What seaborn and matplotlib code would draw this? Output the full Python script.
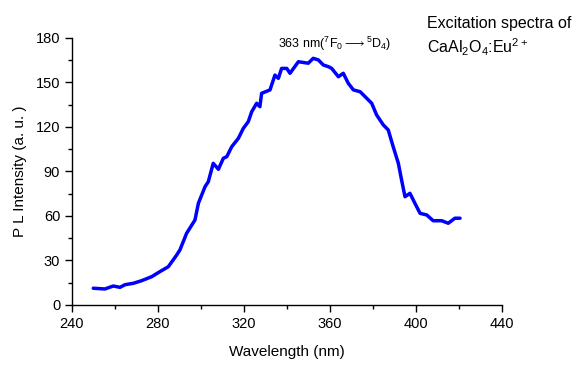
import matplotlib
matplotlib.use("Agg")
import matplotlib.pyplot as plt
import seaborn as sns
import pandas as pd

wavelength = [249.9, 255.3, 259.2, 262.3, 264.7, 268.5, 272.4, 277.1, 280.9, 284.8,
              288.7, 290.2, 293.3, 297.2, 298.8, 301.9, 303.4, 305.7, 308.1, 310.4,
              312.0, 314.3, 317.4, 319.7, 322.0, 323.6, 325.9, 327.4, 328.2, 332.1,
              334.4, 336.0, 337.5, 339.9, 341.4, 345.3, 349.9, 352.2, 354.6, 356.9,
              359.2, 360.8, 363.9, 366.2, 368.5, 370.9, 374.0, 376.3, 379.4, 381.7,
              384.8, 387.1, 389.4, 391.8, 393.3, 394.9, 397.2, 399.5, 401.9, 405.0,
              408.0, 412.0, 415.0, 418.1, 420.5]
intensity = [11.3, 10.8, 12.8, 11.9, 13.7, 14.6, 16.4, 19.1, 22.5, 25.8,
             33.7, 37.1, 48.3, 57.3, 68.6, 79.8, 83.1, 95.5, 91.5, 98.9,
             100.0, 106.7, 112.4, 119.1, 123.6, 130.3, 136.0, 133.7, 142.7, 145.0,
             155.0, 152.8, 159.5, 159.5, 156.2, 164.0, 163.0, 166.3, 165.2, 161.8,
             160.7, 159.5, 153.9, 156.2, 149.5, 145.0, 143.8, 140.5, 136.0, 128.1,
             121.4, 118.0, 106.7, 95.5, 84.3, 73.0, 75.3, 68.6, 61.8, 60.7,
             56.8, 56.8, 55.1, 58.5, 58.5]

x_ticks = [240, 280, 320, 360, 400, 440]
y_ticks = [0, 30, 60, 90, 120, 150, 180]

df = pd.DataFrame({"Wavelength": wavelength, "Intensity": intensity})

sns.set_style("ticks")
plt.rcParams['font.family'] = ['Liberation Sans', 'DejaVu Sans']
plt.rcParams['mathtext.fontset'] = 'custom'
plt.rcParams['mathtext.rm'] = 'Liberation Sans'
plt.rcParams['mathtext.it'] = 'Liberation Sans'
plt.rcParams['text.color'] = 'black'
plt.rcParams['axes.labelcolor'] = 'black'

fig = plt.figure(figsize=(5.75, 3.65), dpi=100)
ax = fig.add_axes([0.1252, 0.1644, 0.7478, 0.7315])
sns.lineplot(data=df, x="Wavelength", y="Intensity", color="#0000ff", linewidth=2.5, ax=ax)

ax.set_xlim(240, 440)
ax.set_ylim(0, 180)
ax.set_xticks(x_ticks)
ax.set_yticks(y_ticks)
ax.set_xticks([260, 300, 340, 380, 420], minor=True)
ax.set_yticks([15, 45, 75, 105, 135, 165], minor=True)
ax.tick_params(axis="both", which="major", length=5, width=1, labelsize=10.5,
               direction="out", color="black", labelcolor="black")
ax.tick_params(axis="both", which="minor", length=3, width=1, direction="out", color="black")
sns.despine(ax=ax)
for s in ["left", "bottom"]:
    ax.spines[s].set_linewidth(1)
    ax.spines[s].set_color("black")

ax.set_xlabel("Wavelength (nm)", fontsize=11, labelpad=10)
ax.set_ylabel("P L Intensity (a. u. )", fontsize=11, labelpad=6)

ax.text(362, 176, r"363 nm($^7$F$_0$$\longrightarrow$$^5$D$_4$)", fontsize=9,
        ha="center", va="center")
fig.text(0.742, 0.935, "Excitation spectra of", fontsize=11.5, ha="left", va="center")
fig.text(0.742, 0.87, r"CaAl$_2$O$_4$:Eu$^{2+}$", fontsize=11.5, ha="left", va="center")

fig.savefig("out.png", dpi=100)
